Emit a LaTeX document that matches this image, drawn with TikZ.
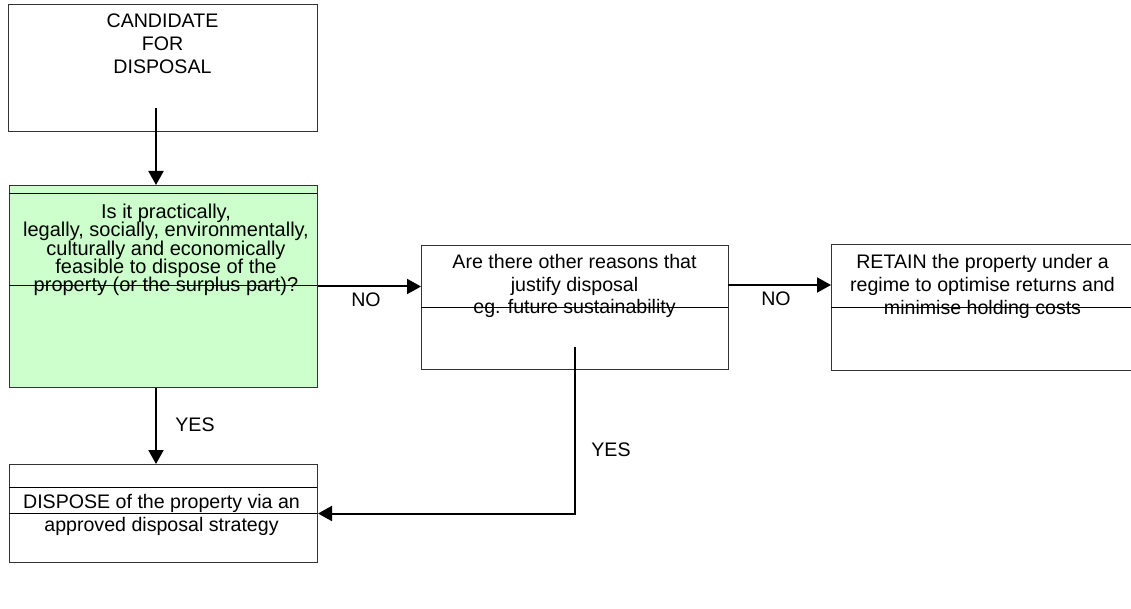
\documentclass[tikz,border=0pt]{standalone}
\usepackage{fontspec}
\setmainfont{Liberation Sans}
\usetikzlibrary{arrows.meta}
\definecolor{palegreen}{RGB}{204,255,204}
\newcommand\mytightfont{\fontsize{20}{18.3}\selectfont\lineskiplimit=-30pt\relax}
\begin{document}
\begin{tikzpicture}[x=1pt,y=-1pt,
  box/.style={draw=black!80, line width=1pt, rectangle, inner sep=0pt, anchor=north west},
  sep/.style={line width=0.8pt, black},
  conn/.style={line width=2pt, -{Triangle[length=14pt,width=15pt]}},
  txt/.style={align=center, inner sep=0pt, font=\fontsize{19.6}{23}\selectfont},
  lab/.style={inner sep=0pt, font=\fontsize{19.6}{23}\selectfont}]
\useasboundingbox (0,0) rectangle (1131,609);
% boxes
\node[box, minimum width=309pt, minimum height=127pt] (cand) at (8,4) {};
\node[box, fill=palegreen, minimum width=308pt, minimum height=202pt] (q1) at (9,185) {};
\node[box, minimum width=307pt, minimum height=124pt] (q2) at (421,245) {};
\node[box, draw=none, minimum width=300pt, minimum height=124pt] (retain) at (831,245) {};
\draw[draw=black!80, line width=1pt] (retain.north east) -- (retain.north west) -- (retain.south west) -- (retain.south east);
\node[box, minimum width=308pt, minimum height=98pt] (dispose) at (9,464) {};
% separator lines
\draw[sep] (9,193) -- (317,193);
\draw[sep] (9,285) -- (317,285);
\draw[sep] (421,307) -- (728,307);
\draw[sep] (831,307) -- (1131,307);
\draw[sep] (9,487) -- (317,487);
\draw[sep] (9,513) -- (317,513);
% texts
\node[txt] (t1) at (162.5,43.5) {CANDIDATE\\FOR\\DISPOSAL};
\node[txt, font=\mytightfont] (t2) at (166,250) {Is it practically,\\legally, socially, environmentally,\\culturally and economically\\feasible to dispose of the\\property (or the surplus part)?};
\node[txt, font=\fontsize{19.6}{22.5}\selectfont] (t3) at (574.5,286) {Are there other reasons that\\justify disposal\\eg. future sustainability};
\node[txt] (t4) at (982.5,286) {RETAIN the property under a\\regime to optimise returns and\\minimise holding costs};
\node[txt] (t5) at (161.5,515) {DISPOSE of the property via an\\approved disposal strategy};
% labels
\node[lab] (no1) at (366,300) {NO};
\node[lab] (no2) at (776,299) {NO};
\node[lab] (yes1) at (195,425) {YES};
\node[lab] (yes2) at (611,450) {YES};
% connectors
\coordinate (s1) at (156,108);
\coordinate (s3) at (728,285);
\coordinate (s4) at (575,347);
\draw[conn] (s1) -- (s1 |- q1.north);
\draw[conn] (q1.east) -- (q1.east -| q2.west);
\draw[conn] (s3) -- (s3 -| retain.west);
\draw[conn] (s1 |- q1.south) -- (s1 |- dispose.north);
\draw[conn] (s4) |- (dispose.east);
\end{tikzpicture}
\end{document}
